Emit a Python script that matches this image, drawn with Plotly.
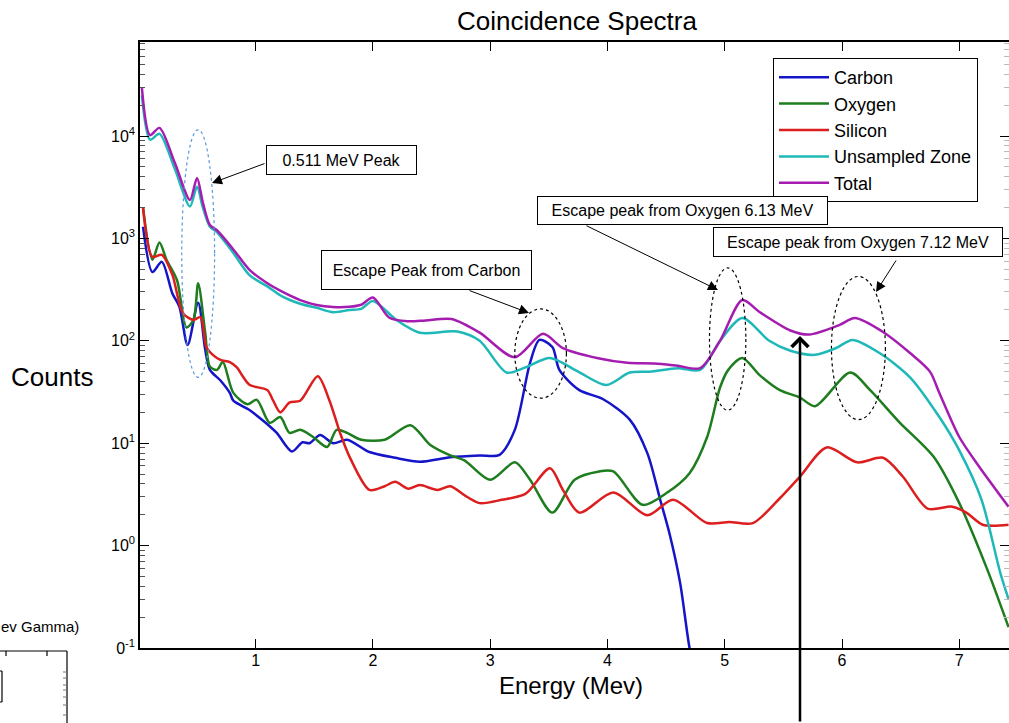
import plotly.graph_objects as go

# ---- Spectra: energy (MeV) and counts for each contribution ----
carbon_e = [0.04, 0.12, 0.20, 0.29, 0.35, 0.42, 0.51, 0.57, 0.61, 0.70, 0.78, 0.81, 0.95, 1.08,
            1.18, 1.31, 1.40, 1.46, 1.55, 1.66, 1.78, 1.97, 2.19, 2.40, 2.66, 2.91, 3.08, 3.21,
            3.34, 3.42, 3.53, 3.59, 3.76, 3.96, 4.19, 4.34, 4.45, 4.53, 4.62, 4.70, 4.76]
carbon_c = [1300, 470, 590, 290, 215, 91, 235, 82, 52, 41, 31, 26, 21, 16,
            12.6, 8.3, 10.2, 10, 12, 10, 10.8, 8.2, 7.2, 6.6, 7.3, 7.6, 7.7, 13.5,
            61, 102, 87, 52, 33, 27, 17, 8, 2.8, 1.3, 0.43, 0.1, 0.05]

oxygen_e = [0.04, 0.12, 0.18, 0.24, 0.33, 0.41, 0.47, 0.51, 0.57, 0.61, 0.67, 0.72, 0.81, 0.93,
            1.01, 1.12, 1.21, 1.29, 1.38, 1.49, 1.61, 1.69, 1.78, 1.90, 2.10, 2.32, 2.49, 2.66,
            2.78, 3.00, 3.21, 3.34, 3.53, 3.72, 3.93, 4.05, 4.30, 4.51, 4.70, 4.85, 4.96, 5.03,
            5.15, 5.30, 5.47, 5.64, 5.77, 6.07, 6.24, 6.49, 6.78, 7.00, 7.23, 7.42]
oxygen_c = [2000, 620, 910, 620, 390, 135, 160, 365, 120, 56, 52, 62, 31, 24,
            26.5, 15.8, 18, 12.6, 13.5, 11.5, 9.2, 13.5, 12.6, 10.8, 10.8, 15, 9.6, 7.6,
            6.8, 4.4, 6.5, 4.4, 2.1, 4.4, 5.3, 5.3, 2.5, 3.3, 5.1, 11.5, 35, 52,
            68, 46, 33, 28, 23, 49, 33, 16, 7.4, 2.6, 0.62, 0.16]

silicon_e = [0.04, 0.12, 0.20, 0.29, 0.38, 0.47, 0.53, 0.58, 0.64, 0.70, 0.78, 0.84, 0.89, 0.95,
             1.10, 1.15, 1.21, 1.29, 1.38, 1.53, 1.63, 1.72, 1.80, 1.97, 2.10, 2.19, 2.30, 2.40,
             2.55, 2.66, 2.80, 2.91, 3.10, 3.30, 3.51, 3.62, 3.76, 4.05, 4.34, 4.56, 4.85, 5.04,
             5.24, 5.47, 5.64, 5.87, 6.13, 6.35, 6.52, 6.73, 6.94, 7.06, 7.20, 7.42]
silicon_c = [2000, 660, 690, 440, 186, 160, 170, 87, 72, 65, 62, 55, 45, 37,
             33, 26, 20, 25, 26, 45, 26, 12.6, 7.4, 3.5, 3.8, 4.2, 3.6, 3.9,
             3.5, 3.8, 3.0, 2.6, 2.8, 3.2, 5.7, 3.5, 2.1, 3.3, 1.98, 2.8, 1.66, 1.7,
             1.66, 2.9, 4.7, 9.1, 6.5, 7.2, 4.7, 2.3, 2.4, 2.1, 1.6, 1.6]

unsampled_e = [0.03, 0.10, 0.18, 0.31, 0.44, 0.50, 0.55, 0.61, 0.67, 0.81, 0.95, 1.10, 1.23, 1.38,
               1.52, 1.66, 1.80, 1.90, 2.00, 2.20, 2.40, 2.72, 2.91, 3.14, 3.30, 3.51, 3.75, 3.99,
               4.19, 4.36, 4.60, 4.79, 4.96, 5.15, 5.38, 5.56, 5.77, 5.95, 6.09, 6.32, 6.58, 6.83,
               7.00, 7.19, 7.35, 7.42]
unsampled_c = [25000, 9200, 10500, 4800, 2050, 3200, 2000, 1300, 1150, 720, 435, 340, 270, 230,
               210, 190, 200, 205, 245, 160, 120, 123, 100, 49, 55, 68, 50, 37,
               49, 50, 54, 52, 100, 167, 100, 80, 73, 85, 102, 76, 44, 18,
               8.5, 2.8, 0.54, 0.3]

total_e = [0.03, 0.10, 0.18, 0.31, 0.44, 0.50, 0.55, 0.61, 0.67, 0.81, 0.95, 1.10, 1.23, 1.38,
           1.52, 1.66, 1.80, 1.90, 2.00, 2.14, 2.30, 2.45, 2.67, 2.91, 3.21, 3.45, 3.62, 3.91,
           4.17, 4.40, 4.60, 4.79, 4.96, 5.15, 5.30, 5.56, 5.72, 5.98, 6.11, 6.35, 6.58, 6.75,
           6.83, 7.00, 7.17, 7.42]
total_c = [29500, 10200, 12000, 5500, 2370, 3900, 2240, 1350, 1200, 780, 490, 365, 300, 250,
           224, 214, 215, 225, 265, 168, 155, 158, 163, 120, 69, 117, 85, 68,
           61, 60, 57, 54, 100, 250, 190, 126, 115, 143, 167, 122, 76, 50,
           31, 11.5, 5.9, 2.4]

series = [
    ("Carbon", carbon_e, carbon_c, "#1414c8"),
    ("Oxygen", oxygen_e, oxygen_c, "#1e7d1e"),
    ("Silicon", silicon_e, silicon_c, "#dc1e1e"),
    ("Unsampled Zone", unsampled_e, unsampled_c, "#1fb8b8"),
    ("Total", total_e, total_c, "#a51db0"),
]

x_ticks = [1, 2, 3, 4, 5, 6, 7]
y_ticks = [0.1, 1, 10, 100, 1000, 10000]
y_ticktext = ["0<sup>-1</sup>", "10<sup>0</sup>", "10<sup>1</sup>", "10<sup>2</sup>",
              "10<sup>3</sup>", "10<sup>4</sup>"]
y_minor = [m * 10 ** d for d in range(-1, 5) for m in range(2, 10)]

# Marked regions: (energy min, energy max, counts min, counts max, colour)
regions = [
    (0.37, 0.65, 44, 11500, "#5a9ad8"),
    (3.21, 3.65, 27.5, 205, "black"),
    (4.87, 5.18, 21, 515, "black"),
    (5.91, 6.37, 17, 425, "black"),
]

# ---- Figure geometry ----
W, H = 1009, 723
ML, MR, MT, MB = 140, 0, 42, 75
PW, PH = W - ML - MR, H - MT - MB
X_RANGE = [0.014, 7.424]
Y_RANGE = [-1.0, 4.918]


def fx(xp):
    return (xp - ML) / PW


def fy(yp):
    return (H - MB - yp) / PH


FONT = "Arial, Liberation Sans, Helvetica, sans-serif"

fig = go.Figure()
for name, e, c, col in series:
    fig.add_trace(go.Scatter(
        x=e, y=c, name=name, mode="lines",
        line=dict(color=col, width=2.5, shape="spline", smoothing=0.8),
    ))

# invisible trace so the right-hand tick axis is drawn
fig.add_trace(go.Scatter(x=[1], y=[1], xaxis="x", yaxis="y2", mode="lines",
                         showlegend=False, hoverinfo="skip", line=dict(width=0)))

shapes = []
for e0, e1, c0, c1, col in regions:
    shapes.append(dict(type="circle", xref="x", yref="y",
                       x0=e0, x1=e1, y0=c0, y1=c1,
                       line=dict(color=col, width=1.2, dash="dot")))

# fragment of the neighbouring axes at the lower left corner
frag = dict(xref="paper", yref="paper", type="line", line=dict(color="black", width=1.2))
shapes.append(dict(frag, x0=fx(-5), x1=fx(67), y0=fy(651), y1=fy(651)))
shapes.append(dict(frag, x0=fx(67), x1=fx(67), y0=fy(651), y1=fy(730)))
for tx in [6, 47]:
    shapes.append(dict(frag, x0=fx(tx), x1=fx(tx), y0=fy(651), y1=fy(656)))
for ty in [672, 678, 685, 690, 697, 705, 715]:
    shapes.append(dict(xref="paper", yref="paper", type="line",
                       x0=fx(63), x1=fx(67), y0=fy(ty), y1=fy(ty),
                       line=dict(color="#777777", width=1)))
shapes.append(dict(frag, x0=fx(-5), x1=fx(2), y0=fy(671), y1=fy(671)))
shapes.append(dict(frag, x0=fx(2), x1=fx(2), y0=fy(671), y1=fy(702)))
shapes.append(dict(frag, x0=fx(-5), x1=fx(2), y0=fy(702), y1=fy(702)))

annotations = []

# labelled boxes: text, centre x, centre y, width, height (pixels)
boxes = [
    ("0.511 MeV Peak", 341.5, 160, 151, 30),
    ("Escape Peak from Carbon", 426.5, 269.5, 211, 40),
    ("Escape peak from Oxygen 6.13 MeV", 682.5, 210, 291, 29),
    ("Escape peak from Oxygen 7.12 MeV", 858, 242, 290, 30),
]
for txt, cx, cy, w, h in boxes:
    annotations.append(dict(
        text=txt, xref="paper", yref="paper", x=fx(cx), y=fy(cy),
        xanchor="center", yanchor="middle", showarrow=False,
        width=w - 2, height=h - 2, borderpad=0, borderwidth=1,
        bordercolor="black", bgcolor="white",
        font=dict(family=FONT, size=16, color="black"),
    ))

# pointer arrows: tail (x, y) -> head (x, y), pixels
pointers = [
    ((266, 163), (212, 183)),
    ((468, 290), (529, 313)),
    ((585, 225), (718, 290)),
    ((897, 259), (876, 292)),
]
for (tx, ty), (hx, hy) in pointers:
    annotations.append(dict(
        text="", xref="paper", yref="paper", x=fx(hx), y=fy(hy),
        ax=tx - hx, ay=ty - hy, showarrow=True,
        arrowhead=2, arrowsize=2, arrowwidth=1, arrowcolor="black",
    ))

# vertical arrow from the bottom edge
annotations.append(dict(
    text="", xref="paper", yref="paper", x=fx(800), y=fy(336),
    ax=0, ay=400, showarrow=True,
    arrowhead=4, arrowsize=1.3, arrowwidth=2.5, arrowcolor="black",
))

annotations.append(dict(
    text="Counts", xref="paper", yref="paper", x=fx(52), y=fy(377),
    xanchor="center", yanchor="middle", showarrow=False,
    font=dict(family=FONT, size=26, color="black"),
))
annotations.append(dict(
    text="Energy (Mev)", xref="paper", yref="paper", x=fx(571), y=fy(685),
    xanchor="center", yanchor="middle", showarrow=False,
    font=dict(family=FONT, size=24, color="black"),
))
annotations.append(dict(
    text="ev Gamma)", xref="paper", yref="paper", x=fx(81), y=fy(626),
    xanchor="right", yanchor="middle", showarrow=False,
    font=dict(family=FONT, size=15, color="black"),
))

fig.update_layout(
    width=W, height=H,
    margin=dict(l=ML, r=MR, t=MT, b=MB, pad=0),
    paper_bgcolor="white", plot_bgcolor="white",
    font=dict(family=FONT, color="black"),
    title=dict(text="Coincidence Spectra", x=fx(577), xref="paper", xanchor="center",
               y=1 - 21 / H, yanchor="middle",
               font=dict(family=FONT, size=26, color="black")),
    xaxis=dict(
        range=X_RANGE, showgrid=False, zeroline=False,
        showline=True, linecolor="black", linewidth=1.5, mirror="ticks",
        ticks="inside", ticklen=9, tickcolor="black", tickwidth=1,
        tickmode="array", tickvals=x_ticks, ticktext=[str(v) for v in x_ticks],
        tickfont=dict(family=FONT, size=16, color="black"),
        ticklabelstandoff=-3,
    ),
    yaxis=dict(
        type="log", range=Y_RANGE, showgrid=False, zeroline=False,
        showline=True, linecolor="black", linewidth=1.5,
        ticks="inside", ticklen=9, tickcolor="black", tickwidth=1,
        tickmode="array", tickvals=y_ticks, ticktext=y_ticktext,
        tickfont=dict(family=FONT, size=16, color="black"),
        minor=dict(ticks="inside", ticklen=5, tickcolor="#555555", tickwidth=1,
                   tickmode="array", tickvals=y_minor, showgrid=False),
    ),
    yaxis2=dict(
        type="log", range=Y_RANGE, overlaying="y", side="right", anchor="x",
        showgrid=False, zeroline=False, showline=False, showticklabels=False,
        ticks="inside", ticklen=9, tickcolor="black", tickwidth=1,
        tickmode="array", tickvals=y_ticks,
        minor=dict(ticks="inside", ticklen=5, tickcolor="#bbbbbb", tickwidth=1,
                   tickmode="array", tickvals=y_minor, showgrid=False),
    ),
    legend=dict(
        x=fx(773), y=fy(58), xanchor="left", yanchor="top",
        bgcolor="white", bordercolor="black", borderwidth=1,
        font=dict(family=FONT, size=18, color="black"),
        itemwidth=50, tracegroupgap=0,
    ),
    shapes=shapes,
    annotations=annotations,
)

fig.write_html("out.html")
